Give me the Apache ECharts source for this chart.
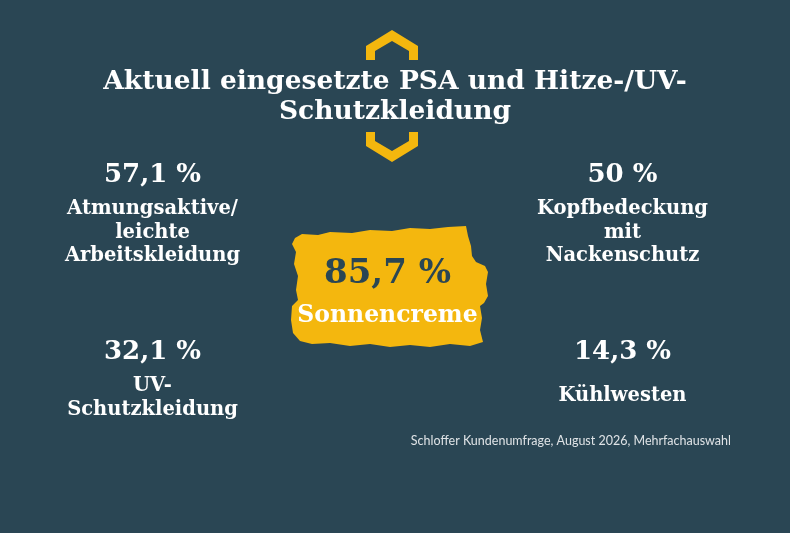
<!DOCTYPE html>
<html>
<head>
<meta charset="utf-8">
<script src="https://cdn.jsdelivr.net/npm/echarts@6/dist/echarts.min.js"></script>
<style>
html,body{margin:0;padding:0;background:#2a4654;}
#chart{width:790px;height:533px;}
</style>
</head>
<body>
<div id="chart"></div>
<script>
// ---- data ----
const titleLines = ['Aktuell eingesetzte PSA und Hitze-/UV-', 'Schutzkleidung'];
const sourceText = 'Schloffer Kundenumfrage, August 2026, Mehrfachauswahl';
const categories = ['Atmungsaktive/\nleichte\nArbeitskleidung', 'Kopfbedeckung\nmit\nNackenschutz', 'UV-\nSchutzkleidung', 'Kühlwesten', 'Sonnencreme'];
const values = [57.1, 50, 32.1, 14.3, 85.7];
const columns = ['links', 'mitte', 'rechts'];
const rows = ['oben', 'mitte', 'unten'];
const itemColumn = ['links', 'rechts', 'links', 'rechts', 'mitte'];
const itemRow = ['oben', 'oben', 'unten', 'unten', 'mitte'];
const highlight = [false, false, false, false, true];

// ---- styles ----
const BG = '#2a4654';
const YELLOW = '#f4b70e';
const FONT = 'DejaVu Serif';

function fmt(v) {
  return (Math.round(v * 10) % 10 === 0 ? String(Math.round(v)) : v.toFixed(1).replace('.', ',')) + ' %';
}

const seriesData = values.map((v, i) => {
  const hi = highlight[i];
  const single = categories[i].indexOf('\n') < 0;
  const nameStyle = hi ? 'hname' : (single ? 'sname' : 'name');
  const nameText = categories[i].split('\n').map(l => '{' + nameStyle + '|' + l + '}').join('\n');
  return {
    value: [itemColumn[i], itemRow[i], v],
    label: {
      formatter: '{' + (hi ? 'hnum' : 'num') + '|' + fmt(v) + '}\n' + nameText,
      offset: [0, hi ? -9 : -19]
    }
  };
});

const chart = echarts.init(document.getElementById('chart'), null, {renderer: 'canvas'});

const brush = [
  [295,238],[302,234],[318,235],[330,232],[352,233],[370,230],[392,231],[410,228],[430,229],[448,227],[466,226],
  [468,236],[471,246],[472,256],[476,262],[485,266],[488,272],[486,284],[488,296],[484,303],[480,306],
  [482,318],[480,330],[483,342],[470,346],[450,344],[430,347],[410,345],[390,347],[370,344],[350,346],[330,343],[312,344],[300,341],
  [293,333],[291,320],[292,306],[298,300],[296,290],[298,276],[294,264],[296,252],[292,244]
];

const titleGraphics = titleLines.map((t, i) => ({
  type: 'text', silent: true, z: 10, x: 395, y: 82 + i * 30,
  style: {text: t, align: 'center', verticalAlign: 'middle', fill: '#ffffff', font: 'bold 26.5px "DejaVu Serif"'}
}));

chart.setOption({
  backgroundColor: BG,
  animation: false,
  title: [{
    text: sourceText,
    right: 54,
    top: 429,
    textStyle: {color: '#dfe3e6', fontFamily: 'Lato', fontWeight: 'normal', fontSize: 12.5}
  }],
  graphic: [
    {type: 'polygon', silent: true, z: 0, shape: {points: [[366,60],[366,46],[392,30],[418,46],[418,60],[409,60],[409,51],[392,41],[375,51],[375,60]]}, style: {fill: YELLOW}},
    {type: 'polygon', silent: true, z: 0, shape: {points: [[366,132],[366,146],[392,162],[418,146],[418,132],[409,132],[409,141],[392,151],[375,141],[375,132]]}, style: {fill: YELLOW}},
    {type: 'polygon', silent: true, z: 0, shape: {points: brush}, style: {fill: YELLOW}}
  ].concat(titleGraphics),
  grid: {left: 35.5, width: 705, top: 173, height: 177},
  xAxis: {type: 'category', data: columns, show: false, boundaryGap: true},
  yAxis: {type: 'category', data: rows, show: false, inverse: true, boundaryGap: false},
  series: [{
    type: 'scatter',
    symbolSize: 1,
    itemStyle: {color: 'rgba(0,0,0,0)', opacity: 1},
    emphasis: {disabled: true},
    z: 5,
    label: {
      show: true,
      position: [0, 0],
      align: 'center',
      verticalAlign: 'top',
      rich: {
        num: {color: '#ffffff', fontFamily: FONT, fontWeight: 'bold', fontSize: 26, lineHeight: 44, align: 'center'},
        name: {color: '#ffffff', fontFamily: FONT, fontWeight: 'bold', fontSize: 19.5, lineHeight: 23.5, align: 'center'},
        sname: {color: '#ffffff', fontFamily: FONT, fontWeight: 'bold', fontSize: 19.5, lineHeight: 43, align: 'center'},
        hnum: {color: BG, fontFamily: FONT, fontWeight: 'bold', fontSize: 34, lineHeight: 44, align: 'center'},
        hname: {color: '#ffffff', fontFamily: FONT, fontWeight: 'bold', fontSize: 23.5, lineHeight: 40, align: 'center'}
      }
    },
    data: seriesData
  }]
});
</script>
</body>
</html>
